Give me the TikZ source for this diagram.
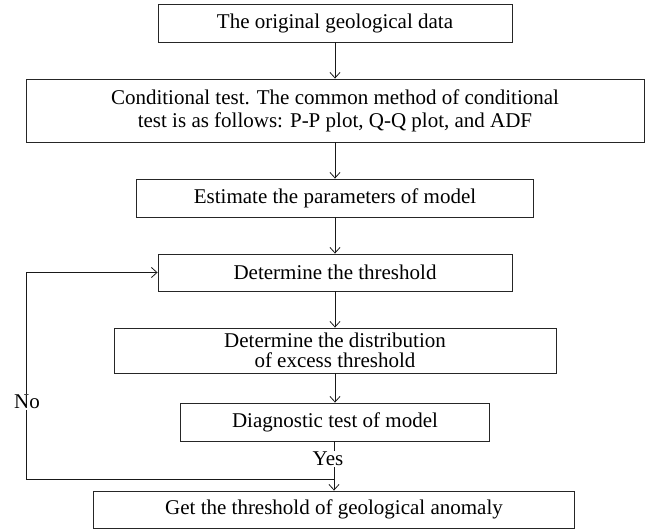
\documentclass[tikz,border=0pt]{standalone}
\usepackage{fontspec}
\setmainfont{Liberation Serif}
\usetikzlibrary{arrows.meta}
\begin{document}
\begin{tikzpicture}[x=1pt,y=-1pt,
  box/.style={draw=black!85,line width=0.9pt,inner sep=0pt,align=center,
    font=\fontsize{21}{23}\selectfont},
  conn/.style={draw=black!90,line width=0.8pt,-{Straight Barb[length=5.5pt,width=10pt]}},
  lab/.style={fill=white,inner sep=1pt,font=\fontsize{21}{23}\selectfont}]
\useasboundingbox (0,0) rectangle (650,531);
\node[box,minimum width=354pt,minimum height=38pt] (b1) at (335,23) {The original geological data};
\node[box,minimum width=618pt,minimum height=63pt] (b2) at (335,110.5) {Conditional test. The common method of conditional\\test is as follows: P-P plot, Q-Q plot, and ADF};
\node[box,minimum width=397pt,minimum height=38pt] (b3) at (335,198) {Estimate the parameters of model};
\node[box,minimum width=354pt,minimum height=37pt] (b4) at (335,272.5) {Determine the threshold};
\node[box,minimum width=442pt,minimum height=45pt,font=\fontsize{21}{20}\selectfont] (b5) at (335,350.5) {Determine the distribution\\of excess threshold};
\node[box,minimum width=309pt,minimum height=38pt] (b6) at (335,422) {Diagnostic test of model};
\node[box,minimum width=481pt,minimum height=37pt] (b7) at (334,509.5) {Get the threshold of geological anomaly};
\coordinate (lp) at (26,479);
\draw[conn] (b1) -- (b2);
\draw[conn] (b2) -- (b3);
\draw[conn] (b3) -- (b4);
\draw[conn] (b4) -- (b5);
\draw[conn] (b5) -- (b6);
\draw[conn] (b6.south -| b7.north) -- (b7.north);
\draw[draw=black!90,line width=0.8pt] (b7.north |- lp) -- (lp);
\draw[conn] (lp) |- (b4.west);
\node[lab] (no) at (27,402) {No};
\node[lab] (yes) at (328,459) {Yes};
\end{tikzpicture}
\end{document}
